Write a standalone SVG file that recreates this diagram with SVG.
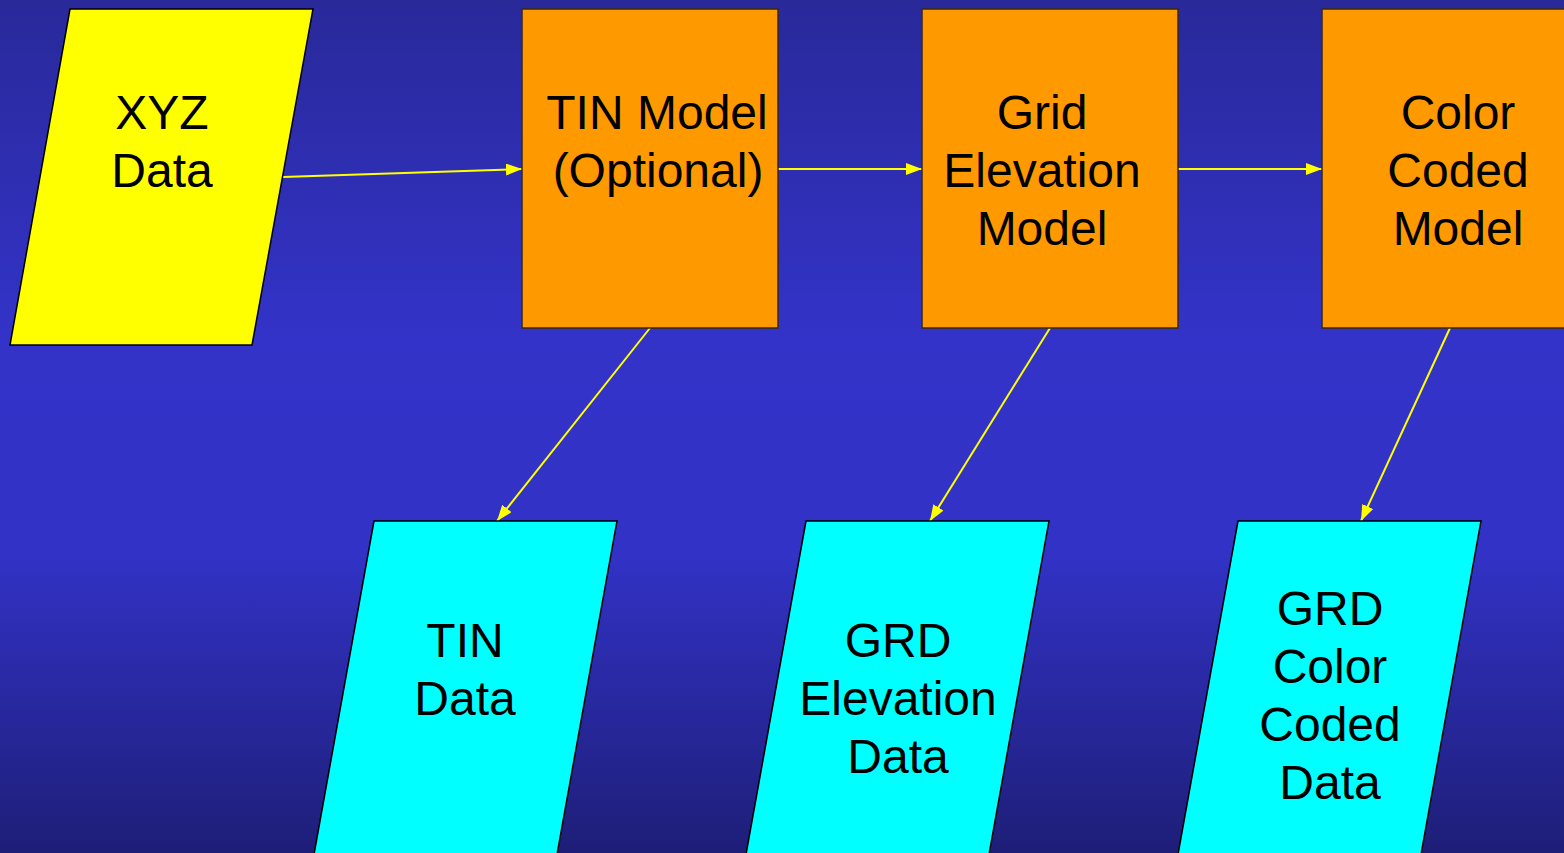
<svg xmlns="http://www.w3.org/2000/svg" width="1564" height="853" viewBox="0 0 1564 853">
<defs>
<linearGradient id="bg" x1="0" y1="0" x2="0" y2="1">
<stop offset="0" stop-color="#29299a"/>
<stop offset="0.4" stop-color="#3333c9"/>
<stop offset="0.65" stop-color="#3232c6"/>
<stop offset="1" stop-color="#1e1e78"/>
</linearGradient>
<marker id="arr" viewBox="0 0 16 12" refX="16" refY="6" markerWidth="16" markerHeight="12" markerUnits="userSpaceOnUse" orient="auto">
<path d="M0,0 L16,6 L0,12 Z" fill="#ffff00"/>
</marker>
<style>
.t{font-family:"Liberation Sans",Arial,sans-serif;font-size:48px;fill:#000;text-anchor:middle}
.data{fill:#ffff00;stroke:#000;stroke-width:1.5}
.out{fill:#00ffff;stroke:#000;stroke-width:1.5}
.proc{fill:#ff9900;stroke:#3a2a10;stroke-width:1.5}
.c{stroke:#ffff00;stroke-width:2;fill:none;marker-end:url(#arr)}
</style>
</defs>
<rect width="1564" height="853" fill="url(#bg)"/>
<g id="connectors">
<line class="c" x1="283" y1="177" x2="522" y2="169"/>
<line class="c" x1="778" y1="169" x2="922" y2="169"/>
<line class="c" x1="1178" y1="169" x2="1322" y2="169"/>
<line class="c" x1="650" y1="328" x2="497" y2="521"/>
<line class="c" x1="1050" y1="328" x2="930" y2="521"/>
<line class="c" x1="1450" y1="328" x2="1361" y2="521"/>
</g>
<g id="xyz">
<polygon class="data" points="70,9 313,9 252,345 10,345"/>
<text class="t" x="162" y="129">XYZ</text>
<text class="t" x="162" y="187">Data</text>
</g>
<g id="tinmodel">
<rect class="proc" x="522" y="9" width="256" height="319"/>
<text class="t" x="657" y="129">TIN Model</text>
<text class="t" x="658" y="187">(Optional)</text>
</g>
<g id="grid">
<rect class="proc" x="922" y="9" width="256" height="319"/>
<text class="t" x="1042" y="129">Grid</text>
<text class="t" x="1042" y="187">Elevation</text>
<text class="t" x="1042" y="245">Model</text>
</g>
<g id="color">
<rect class="proc" x="1322" y="9" width="256" height="319"/>
<text class="t" x="1458" y="129">Color</text>
<text class="t" x="1458" y="187">Coded</text>
<text class="t" x="1458" y="245">Model</text>
</g>
<g id="tindata">
<polygon class="out" points="374,521 617,521 556,860 313,860"/>
<text class="t" x="465" y="657">TIN</text>
<text class="t" x="465" y="715">Data</text>
</g>
<g id="grddata">
<polygon class="out" points="806,521 1049,521 988,860 745,860"/>
<text class="t" x="898" y="657">GRD</text>
<text class="t" x="898" y="715">Elevation</text>
<text class="t" x="898" y="773">Data</text>
</g>
<g id="grdcolor">
<polygon class="out" points="1238,521 1481,521 1420,860 1177,860"/>
<text class="t" x="1330" y="625">GRD</text>
<text class="t" x="1330" y="683">Color</text>
<text class="t" x="1330" y="741">Coded</text>
<text class="t" x="1330" y="799">Data</text>
</g>
</svg>
